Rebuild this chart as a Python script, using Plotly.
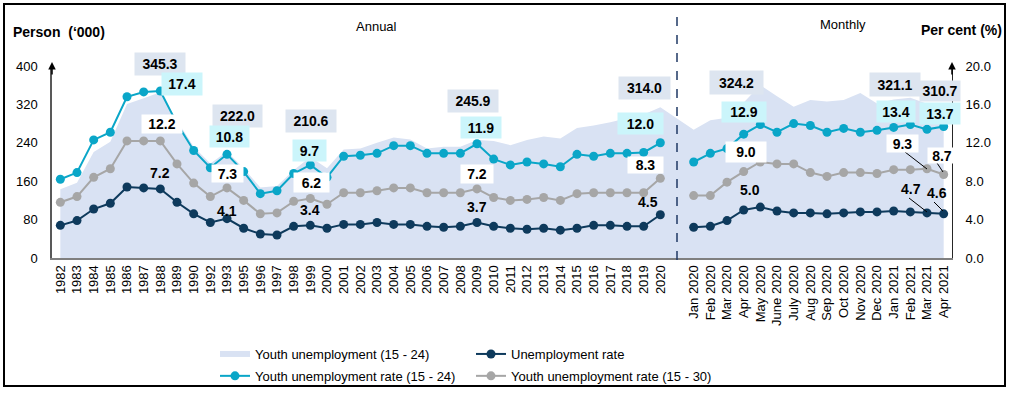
import plotly.graph_objects as go

# ---------------- data ----------------
years = ['1982', '1983', '1984', '1985', '1986', '1987', '1988', '1989', '1990',
         '1992', '1993', '1995', '1996', '1997', '1998', '1999', '2000', '2001',
         '2002', '2003', '2004', '2005', '2006', '2007', '2008', '2009', '2010',
         '2011', '2012', '2013', '2014', '2015', '2016', '2017', '2018', '2019', '2020']
months = ['Jan 2020', 'Feb 2020', 'Mar 2020', 'Apr 2020', 'May 2020', 'June 2020',
          'July 2020', 'Aug 2020', 'Sep 2020', 'Oct 2020', 'Nov 2020', 'Dec 2020',
          'Jan 2021', 'Feb 2021', 'Mar 2021', 'Apr 2021']
gap = [' ']

youth_unemp_annual = [143, 157, 221, 242, 321, 333, 345.3, 287, 232,
                      197, 222.0, 187, 147, 150, 183, 210.6, 187, 226,
                      228, 240, 251, 247, 228, 232, 232, 245.9, 244,
                      235, 246, 253, 249, 271, 276, 283, 291, 299, 314.0]
youth_unemp_monthly = [267, 287, 292, 324.2, 360, 337, 315, 329, 326, 329, 344, 322,
                       330, 334, 321.1, 310.7]

unemp_rate_annual = [3.4, 3.9, 5.1, 5.7, 7.4, 7.3, 7.2, 5.8, 4.6,
                     3.7, 4.1, 3.1, 2.5, 2.4, 3.3, 3.4, 3.1, 3.5,
                     3.5, 3.7, 3.5, 3.5, 3.3, 3.2, 3.3, 3.7, 3.3,
                     3.1, 3.0, 3.1, 2.9, 3.1, 3.4, 3.4, 3.3, 3.3, 4.5]
unemp_rate_monthly = [3.2, 3.3, 3.9, 5.0, 5.3, 4.9, 4.7, 4.7, 4.6, 4.7, 4.8, 4.8,
                      4.9, 4.8, 4.7, 4.6]

youth_rate_1524_annual = [8.2, 8.9, 12.3, 13.1, 16.8, 17.3, 17.4, 14.0, 11.2,
                          9.4, 10.8, 9.0, 6.7, 7.0, 8.8, 9.7, 8.4, 10.6,
                          10.7, 10.9, 11.7, 11.7, 10.9, 10.9, 10.9, 11.9, 10.3,
                          9.7, 10.0, 9.8, 9.5, 10.8, 10.6, 10.9, 10.9, 11.0, 12.0]
youth_rate_1524_monthly = [10.0, 10.9, 11.4, 12.9, 13.9, 13.1, 14.0, 13.8, 13.1, 13.5,
                           13.1, 13.3, 13.6, 13.9, 13.4, 13.7]

youth_rate_1530_annual = [5.8, 6.4, 8.4, 9.3, 12.2, 12.2, 12.2, 9.8, 7.8,
                          6.4, 7.3, 6.0, 4.6, 4.7, 5.9, 6.2, 5.6, 6.8,
                          6.8, 7.0, 7.3, 7.3, 6.8, 6.8, 6.8, 7.2, 6.3,
                          6.0, 6.1, 6.3, 6.0, 6.7, 6.8, 6.8, 6.8, 6.8, 8.3]
youth_rate_1530_monthly = [6.5, 6.5, 7.9, 9.0, 10.0, 9.8, 9.8, 8.9, 8.5, 8.9, 8.9, 8.8,
                           9.2, 9.2, 9.3, 8.7]

left_ticks = [0, 80, 160, 240, 320, 400]
right_ticks = [0, 4, 8, 12, 16, 20]

# ---------------- styles ----------------
FONT = 'Liberation Sans, Arial, sans-serif'
C_AREA = '#d9e2f3'
C_NAVY = '#0e3a5c'
C_CYAN = '#0aa6c8'
C_GRAY = '#a6a6a6'
BG_AREA_LBL = '#dde5f0'
BG_CYAN_LBL = '#cbf5fb'

categories = years + gap + months


def joined(a, m):
    return a + [None] + m


# plot area in pixels: x 52..952, y 66..258
W, H = 1012, 394
L, R, T, B = 52, 952, 66, 258


def px(p):
    return (p - L) / (R - L)


def py(p):
    return (B - p) / (B - T)


fig = go.Figure()

fig.add_trace(go.Scatter(
    x=categories, y=joined(youth_unemp_annual, youth_unemp_monthly),
    mode='none', fill='tozeroy', fillcolor=C_AREA, connectgaps=False,
    name='Youth unemployment (15 - 24)', yaxis='y', legend='legend',
    legendgroup='a', hoverinfo='skip'))

fig.add_trace(go.Scatter(
    x=categories, y=joined(unemp_rate_annual, unemp_rate_monthly),
    mode='lines+markers', line=dict(color=C_NAVY, width=2),
    marker=dict(color=C_NAVY, size=9), connectgaps=False,
    name='Unemployment rate', yaxis='y2', legend='legend2', legendgroup='b'))

fig.add_trace(go.Scatter(
    x=categories, y=joined(youth_rate_1530_annual, youth_rate_1530_monthly),
    mode='lines+markers', line=dict(color=C_GRAY, width=2),
    marker=dict(color=C_GRAY, size=9), connectgaps=False,
    name='Youth unemployment rate (15 - 30)', yaxis='y2', legend='legend2',
    legendgroup='d'))

fig.add_trace(go.Scatter(
    x=categories, y=joined(youth_rate_1524_annual, youth_rate_1524_monthly),
    mode='lines+markers', line=dict(color=C_CYAN, width=2),
    marker=dict(color=C_CYAN, size=9), connectgaps=False,
    name='Youth unemployment rate (15 - 24)', yaxis='y2', legend='legend',
    legendgroup='c'))

annotations = []


def lbl(text, cx, cy, bg=None, w=None, h=None):
    d = dict(text='<b>%s</b>' % text, xref='paper', yref='paper',
             x=px(cx), y=py(cy), xanchor='center', yanchor='middle',
             showarrow=False, font=dict(family=FONT, size=14, color='black'),
             borderpad=0)
    if bg:
        d.update(bgcolor=bg, width=w, height=h)
    annotations.append(d)


# Annual labels
lbl('345.3', 160, 64, BG_AREA_LBL, 50, 22)
lbl('17.4', 182, 84, BG_CYAN_LBL, 40, 22)
lbl('12.2', 162, 124, 'white', 40, 18)
lbl('7.2', 160, 173)
lbl('222.0', 237, 116, BG_AREA_LBL, 49, 22)
lbl('10.8', 229, 136, BG_CYAN_LBL, 39, 21)
lbl('7.3', 227, 173, 'white', 31, 17)
lbl('4.1', 227, 211)
lbl('210.6', 311, 121, BG_AREA_LBL, 50, 22)
lbl('9.7', 309, 150, BG_CYAN_LBL, 33, 21)
lbl('6.2', 311, 182, 'white', 35, 19)
lbl('3.4', 310, 210)
lbl('245.9', 473, 101, BG_AREA_LBL, 50, 22)
lbl('11.9', 481, 127, BG_CYAN_LBL, 40, 21)
lbl('7.2', 477, 174, 'white', 32, 18)
lbl('3.7', 477, 207)
lbl('314.0', 644, 88, BG_AREA_LBL, 51, 22)
lbl('12.0', 640, 123, BG_CYAN_LBL, 45, 21)
lbl('8.3', 645, 165, 'white', 35, 16)
lbl('4.5', 648, 202)
# Monthly labels
lbl('324.2', 736, 82, BG_AREA_LBL, 53, 23)
lbl('12.9', 744, 112, BG_CYAN_LBL, 44, 20)
lbl('9.0', 746, 152, 'white', 40, 20)
lbl('5.0', 750, 190)
lbl('321.1', 895, 84, BG_AREA_LBL, 50, 23)
lbl('13.4', 896, 111, BG_CYAN_LBL, 38, 21)
lbl('9.3', 902, 143, 'white', 31, 17)
lbl('4.7', 911, 189)
lbl('310.7', 940, 91, BG_AREA_LBL, 40, 20)
lbl('13.7', 940, 113, BG_CYAN_LBL, 40, 21)
lbl('8.7', 942, 155, 'white', 28, 15)
lbl('4.6', 937, 193)

# Axis titles / section titles
annotations.append(dict(text="<b>Person  (\u2018000)</b>", xref='paper', yref='paper',
                        x=px(11), y=py(32), xanchor='left', yanchor='middle',
                        showarrow=False, font=dict(family=FONT, size=14, color='black')))
annotations.append(dict(text="<b>Per cent (%)</b>", xref='paper', yref='paper',
                        x=px(919), y=py(30), xanchor='left', yanchor='middle',
                        showarrow=False, font=dict(family=FONT, size=14, color='black')))
annotations.append(dict(text="Annual", xref='paper', yref='paper',
                        x=px(376), y=py(26), xanchor='center', yanchor='middle',
                        showarrow=False, font=dict(family=FONT, size=13, color='black')))
annotations.append(dict(text="Monthly", xref='paper', yref='paper',
                        x=px(843), y=py(25), xanchor='center', yanchor='middle',
                        showarrow=False, font=dict(family=FONT, size=13, color='black')))
# axis arrows
for xx in (0, 1):
    annotations.append(dict(text='', xref='paper', yref='paper', x=xx, y=py(62),
                            ax=0, ay=14, showarrow=True, arrowhead=2, arrowsize=1,
                            arrowwidth=1.5, arrowcolor='black'))

shapes = []
# leader lines
for (x0, y0, x1, y1) in [(905, 152, 927, 169), (937, 163, 943, 172),
                         (909, 198, 927, 212), (934, 202, 943, 211)]:
    shapes.append(dict(type='line', xref='paper', yref='paper',
                       x0=px(x0), y0=py(y0), x1=px(x1), y1=py(y1),
                       line=dict(color='black', width=1)))
# divider between annual and monthly
gap_idx = len(years)
shapes.append(dict(type='line', xref='x', yref='paper', x0=gap_idx, x1=gap_idx,
                   y0=py(260), y1=py(14),
                   line=dict(color='#1f3864', width=1.5, dash='dash')))
# outer frame
shapes.append(dict(type='rect', xref='paper', yref='paper',
                   x0=px(4), x1=px(1005), y0=py(386), y1=py(4),
                   line=dict(color='black', width=2), fillcolor='rgba(0,0,0,0)'))

fig.update_layout(
    width=W, height=H,
    margin=dict(l=L, r=W - R, t=T, b=H - B, autoexpand=False),
    paper_bgcolor='white', plot_bgcolor='white',
    font=dict(family=FONT, size=13, color='black'),
    xaxis=dict(type='category', categoryorder='array', categoryarray=categories,
               range=[-0.5, len(categories) - 0.5], tickangle=-90,
               tickfont=dict(family=FONT, size=13, color='black'),
               showline=True, linecolor='#7f7f7f', linewidth=2, showgrid=False,
               ticks='', zeroline=False),
    yaxis=dict(range=[0, 400], tickvals=left_ticks, showgrid=False, zeroline=False,
               showline=True, linecolor='#595959', linewidth=1.5, ticks='',
               ticklabelstandoff=10,
               tickfont=dict(family=FONT, size=13, color='black')),
    yaxis2=dict(range=[0, 20], tickvals=right_ticks, tickformat='.1f', overlaying='y',
                side='right', showgrid=False, zeroline=False, showline=True,
                linecolor='#262626', linewidth=1, ticks='', ticklabelstandoff=10,
                tickfont=dict(family=FONT, size=13, color='black')),
    legend=dict(x=215 / W, y=1 - 339 / H, xref='container', yref='container',
                xanchor='left', yanchor='top', traceorder='grouped',
                orientation='v', tracegroupgap=2, bgcolor='rgba(0,0,0,0)',
                font=dict(family=FONT, size=13, color='black')),
    legend2=dict(x=471 / W, y=1 - 339 / H, xref='container', yref='container',
                 xanchor='left', yanchor='top', traceorder='grouped',
                 orientation='v', tracegroupgap=2, bgcolor='rgba(0,0,0,0)',
                 font=dict(family=FONT, size=13, color='black')),
    annotations=annotations, shapes=shapes, showlegend=True,
)

fig.write_html('out.html', config={'displayModeBar': False},
               post_script="document.body.style.margin='0';"
                           "document.documentElement.style.overflow='hidden';")
